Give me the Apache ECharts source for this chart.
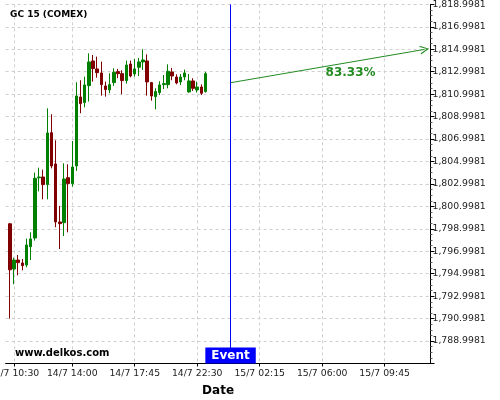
<!DOCTYPE html>
<html>
<head>
<meta charset="utf-8">
<script src="https://cdn.jsdelivr.net/npm/echarts@6/dist/echarts.min.js"></script>
<style>
  html, body { margin: 0; padding: 0; background: #fff; }
  #chart { width: 500px; height: 400px; }
</style>
</head>
<body>
<div id="chart"></div>
<script>
// 15 minute slots (one hour missing in the evening session)
const categories = [
  '14/7 10:00', '14/7 10:15', '14/7 10:30', '14/7 10:45', '14/7 11:00', '14/7 11:15', '14/7 11:30', '14/7 11:45',
  '14/7 12:00', '14/7 12:15', '14/7 12:30', '14/7 12:45', '14/7 13:00', '14/7 13:15', '14/7 13:30', '14/7 13:45',
  '14/7 14:00', '14/7 14:15', '14/7 14:30', '14/7 14:45', '14/7 15:00', '14/7 15:15', '14/7 15:30', '14/7 15:45',
  '14/7 16:00', '14/7 16:15', '14/7 16:30', '14/7 16:45', '14/7 17:00', '14/7 17:15', '14/7 17:30', '14/7 17:45',
  '14/7 19:00', '14/7 19:15', '14/7 19:30', '14/7 19:45', '14/7 20:00', '14/7 20:15', '14/7 20:30', '14/7 20:45',
  '14/7 21:00', '14/7 21:15', '14/7 21:30', '14/7 21:45', '14/7 22:00', '14/7 22:15', '14/7 22:30', '14/7 22:45',
  '14/7 23:00', '14/7 23:15', '14/7 23:30', '14/7 23:45', '15/7 00:00', '15/7 00:15', '15/7 00:30', '15/7 00:45',
  '15/7 01:00', '15/7 01:15', '15/7 01:30', '15/7 01:45', '15/7 02:00', '15/7 02:15', '15/7 02:30', '15/7 02:45',
  '15/7 03:00', '15/7 03:15', '15/7 03:30', '15/7 03:45', '15/7 04:00', '15/7 04:15', '15/7 04:30', '15/7 04:45',
  '15/7 05:00', '15/7 05:15', '15/7 05:30', '15/7 05:45', '15/7 06:00', '15/7 06:15', '15/7 06:30', '15/7 06:45',
  '15/7 07:00', '15/7 07:15', '15/7 07:30', '15/7 07:45', '15/7 08:00', '15/7 08:15', '15/7 08:30', '15/7 08:45',
  '15/7 09:00', '15/7 09:15', '15/7 09:30', '15/7 09:45', '15/7 10:00', '15/7 10:15', '15/7 10:30', '15/7 10:45',
  '15/7 11:00', '15/7 11:15', '15/7 11:30', '15/7 11:45', '15/7 12:00', '15/7 12:15', '15/7 12:30'
]

const tickLabels = ['14/7 10:30', '14/7 14:00', '14/7 17:45', '14/7 22:30', '15/7 02:15', '15/7 06:00', '15/7 09:45']

// [open, close, low, high], first candle sits on categories[1]
const firstCandle = 1
const candles = [
  [1799.45, 1795.35, 1791.00, 1799.50],
  [1795.42, 1796.22, 1794.06, 1796.43],
  [1796.22, 1795.99, 1794.86, 1796.67],
  [1795.96, 1795.72, 1795.30, 1796.31],
  [1795.78, 1797.56, 1795.57, 1798.13],
  [1797.41, 1798.10, 1796.22, 1798.69],
  [1798.18, 1803.50, 1797.95, 1804.01],
  [1803.55, 1803.62, 1802.34, 1804.45],
  [1803.62, 1802.94, 1801.63, 1804.27],
  [1802.94, 1807.54, 1801.63, 1809.74],
  [1807.57, 1804.60, 1804.39, 1809.21],
  [1804.78, 1799.61, 1799.14, 1806.89],
  [1799.61, 1799.46, 1797.20, 1801.04],
  [1799.55, 1803.44, 1798.36, 1804.84],
  [1803.56, 1803.03, 1798.69, 1804.75],
  [1803.03, 1804.51, 1802.76, 1806.83],
  [1804.60, 1810.84, 1804.16, 1812.06],
  [1810.75, 1810.16, 1809.30, 1812.24],
  [1810.25, 1811.82, 1809.83, 1812.56],
  [1811.76, 1813.87, 1810.34, 1814.64],
  [1813.96, 1813.28, 1812.12, 1814.49],
  [1813.25, 1812.92, 1812.47, 1814.35],
  [1812.89, 1811.85, 1810.87, 1813.90],
  [1811.73, 1811.41, 1810.78, 1812.12],
  [1811.38, 1811.85, 1811.08, 1812.86],
  [1812.03, 1812.95, 1811.73, 1813.31],
  [1813.01, 1812.83, 1812.42, 1813.25],
  [1812.83, 1812.21, 1810.99, 1813.13],
  [1812.21, 1813.60, 1811.94, 1813.99],
  [1813.69, 1812.62, 1812.50, 1813.99],
  [1812.80, 1813.25, 1812.56, 1814.14],
  [1813.40, 1813.87, 1812.62, 1814.23],
  [1813.87, 1814.05, 1813.16, 1815.00],
  [1813.96, 1812.09, 1810.87, 1814.55],
  [1812.03, 1810.84, 1810.42, 1812.09],
  [1810.78, 1811.23, 1809.65, 1811.52],
  [1811.14, 1811.82, 1810.93, 1812.15],
  [1811.85, 1811.94, 1811.46, 1812.71],
  [1811.85, 1813.04, 1811.52, 1813.66],
  [1812.98, 1812.62, 1812.24, 1813.34],
  [1812.53, 1812.00, 1811.88, 1812.77],
  [1812.09, 1812.53, 1811.82, 1812.80],
  [1812.53, 1812.89, 1812.24, 1813.19],
  [1811.20, 1812.18, 1811.14, 1812.80],
  [1812.18, 1811.52, 1811.29, 1812.42],
  [1811.38, 1811.64, 1811.14, 1812.12],
  [1811.64, 1811.08, 1810.93, 1811.88],
  [1811.23, 1812.83, 1811.14, 1812.98]
]

const eventIdx = 54
const arrowStart = [54, 1812.02]
const arrowEnd = [100.6, 1814.99]
const pctLabel = '83.33%'
const pctPos = [82.8, 1812.9]

// gridlines sit on odd whole numbers; the labels carry the feed's .9981 offset
const Y_MIN = 1787
const Y_MAX = 1819
const LABEL_SHIFT = 0.0019

const FONT = 'DejaVu Sans'
const UP = '#008000'
const DOWN = '#800000'
const ARROW = '#228b22'

const candleData = categories.map((c, i) => {
  const k = i - firstCandle
  return k >= 0 && k < candles.length ? candles[k] : '-'
})

const isTick = (i) => tickLabels.includes(categories[i])

function fmtPrice(v) {
  const [a, b] = (v - LABEL_SHIFT).toFixed(4).split('.')
  return a.replace(/\B(?=(\d{3})+(?!\d))/g, ',') + '.' + b
}

const chart = echarts.init(document.getElementById('chart'))

chart.setOption({
  animation: false,
  backgroundColor: '#fff',
  textStyle: { fontFamily: FONT },
  title: [
    {
      text: 'GC 15 (COMEX)', left: 10, top: 10, padding: 0,
      textStyle: { fontFamily: FONT, fontSize: 9, fontWeight: 'bold', color: '#000' }
    },
    {
      text: 'www.delkos.com', left: 15, top: 348, padding: 0,
      textStyle: { fontFamily: FONT, fontSize: 10, fontWeight: 'bold', color: '#000' }
    }
  ],
  grid: { left: 5.6, right: 69.5, top: 4.4, bottom: 36.5, containLabel: false, outerBoundsMode: 'none' },
  xAxis: [
    {
      type: 'category',
      data: categories,
      boundaryGap: false,
      name: 'Date',
      nameLocation: 'middle',
      nameGap: 21,
      nameTextStyle: { fontFamily: FONT, fontSize: 12, fontWeight: 'bold', color: '#000' },
      axisLine: { lineStyle: { color: '#000', width: 1 } },
      axisTick: { interval: (i) => isTick(i), length: 3, lineStyle: { color: '#000' } },
      axisLabel: { interval: (i) => isTick(i), margin: 6, fontSize: 9.3, color: '#222', fontFamily: FONT, hideOverlap: false },
      splitLine: { show: true, interval: (i) => isTick(i), lineStyle: { color: '#cfcfcf', type: [3, 3] } }
    },
    { type: 'value', min: 0, max: categories.length - 1, show: false }
  ],
  yAxis: {
    type: 'value',
    position: 'right',
    min: Y_MIN,
    max: Y_MAX,
    interval: 2,
    axisLine: { show: true, onZero: false, lineStyle: { color: '#000', width: 1 } },
    axisTick: { show: true, length: 4, lineStyle: { color: '#000' } },
    minorTick: { show: true, splitNumber: 4, length: 2, lineStyle: { color: '#666' } },
    axisLabel: { formatter: fmtPrice, margin: 2, fontSize: 9.3, color: '#222', fontFamily: FONT, showMinLabel: false },
    splitLine: { show: true, lineStyle: { color: '#cfcfcf', type: [3, 3] } }
  },
  series: [
    {
      type: 'candlestick',
      xAxisIndex: 0,
      data: candleData,
      barWidth: 3,
      itemStyle: { color: UP, color0: DOWN, borderColor: UP, borderColor0: DOWN, borderWidth: 1 },
      markLine: {
        silent: true,
        symbol: ['none', 'none'],
        label: { show: false },
        lineStyle: { color: '#0000ff', type: 'solid', width: 1 },
        data: [{ xAxis: categories[eventIdx] }]
      },
      markPoint: {
        silent: true,
        symbol: 'circle',
        symbolSize: 0,
        data: [{
          coord: [categories[eventIdx], Y_MIN],
          label: {
            show: true, position: 'top', distance: 0, formatter: 'Event',
            backgroundColor: '#0000ff', color: '#fff', fontWeight: 'bold', fontSize: 12,
            fontFamily: FONT, padding: [1, 6, 1, 6], lineHeight: 14
          }
        }]
      }
    },
    {
      type: 'line',
      xAxisIndex: 1,
      data: [arrowStart, arrowEnd],
      showSymbol: false,
      lineStyle: { opacity: 0 },
      silent: true,
      markLine: {
        silent: true,
        symbol: ['none', 'path://M0,10 L5,0 L10,10 L8.6,10 L5,2.6 L1.4,10 Z'],
        symbolSize: [9, 9],
        label: { show: false },
        lineStyle: { color: ARROW, type: 'solid', width: 1 },
        data: [[{ coord: arrowStart }, { coord: arrowEnd }]]
      },
      markPoint: {
        silent: true,
        symbol: 'circle',
        symbolSize: 0,
        data: [{
          coord: pctPos,
          label: { show: true, position: 'inside', formatter: pctLabel, color: ARROW, fontWeight: 'bold', fontSize: 12, fontFamily: FONT }
        }]
      }
    }
  ]
})
</script>
</body>
</html>
